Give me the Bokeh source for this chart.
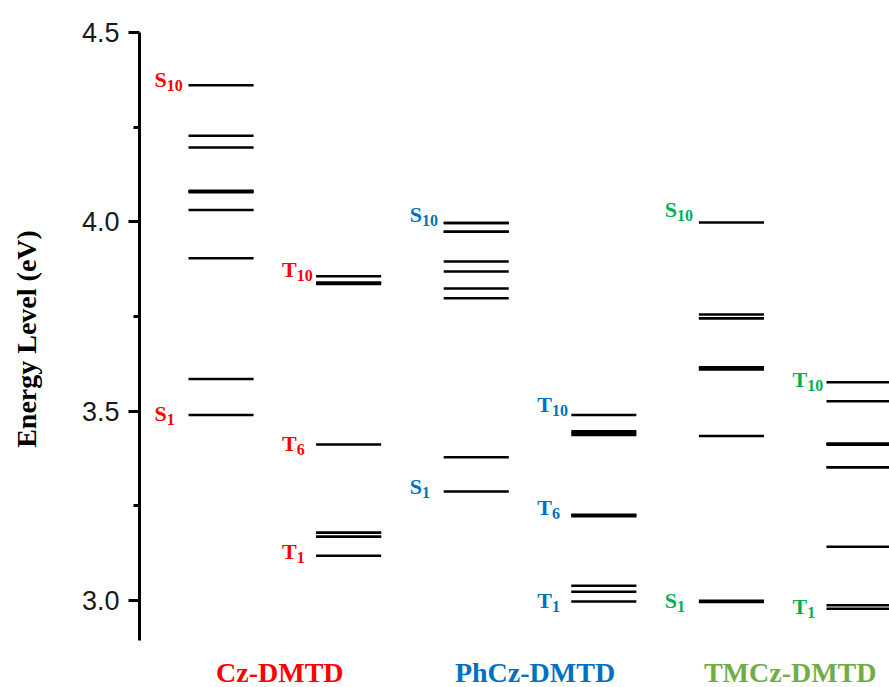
from bokeh.plotting import figure
from bokeh.models import Range1d, FixedTicker, PrintfTickFormatter
from bokeh.core.properties import value
from bokeh.embed import file_html
from bokeh.resources import INLINE

# ---------------- data (energies in eV) ----------------
molecules = ["Cz-DMTD", "PhCz-DMTD", "TMCz-DMTD"]

cz_singlets = [3.490, 3.585, 3.904, 4.031, 4.078, 4.080, 4.082, 4.196, 4.227, 4.361]
cz_triplets = [3.118, 3.168, 3.168, 3.179, 3.179, 3.412, 3.836, 3.839, 3.839, 3.856]
phcz_singlets = [3.288, 3.378, 3.798, 3.824, 3.869, 3.895, 3.974, 3.974, 3.997, 3.997]
phcz_triplets = [2.997, 3.023, 3.039, 3.222, 3.224, 3.226, 3.437, 3.442, 3.447, 3.490]
tmcz_singlets = [2.996, 2.999, 3.434, 3.610, 3.613, 3.616, 3.745, 3.745, 3.755, 3.998]
tmcz_triplets = [2.978, 2.987, 3.142, 3.352, 3.352, 3.411, 3.414, 3.414, 3.526, 3.576]

columns = [cz_singlets, cz_triplets, phcz_singlets, phcz_triplets, tmcz_singlets, tmcz_triplets]

# state labels: column index, letter, subscript, energy where the label sits
label_col = [0, 0, 1, 1, 1, 2, 2, 3, 3, 3, 4, 4, 5, 5]
label_letter = ["S", "S", "T", "T", "T", "S", "S", "T", "T", "T", "S", "S", "T", "T"]
label_sub = ["10", "1", "10", "6", "1", "10", "1", "10", "6", "1", "10", "1", "10", "1"]
label_energy = [4.351, 3.470, 3.850, 3.392, 3.106, 3.995, 3.277, 3.494, 3.222, 2.976,
                4.008, 2.976, 3.559, 2.960]

y_ticks = [3.0, 3.5, 4.0, 4.5]
y_minor_ticks = [3.25, 3.75, 4.25]

# ---------------- styling ----------------
label_colors = ["#FF0000", "#0070C0", "#00B050"]
title_colors = ["#FF0000", "#0070C0", "#70AD47"]
HALF = 0.255          # half width of a level bar (x units)
AXIS_LOW = 2.894
TITLE_Y = 2.776

p = figure(width=889, height=687, output_backend="svg", toolbar_location=None,
           x_range=Range1d(-0.639, 5.239), y_range=Range1d(2.770, 4.5),
           x_axis_location=None, y_axis_location="left",
           min_border_left=139, min_border_right=0, min_border_top=32, min_border_bottom=0)
p.grid.visible = False
p.outline_line_color = None
p.background_fill_color = "white"
p.border_fill_color = "white"

ax = p.yaxis[0]
ax.bounds = (AXIS_LOW, 4.5)
ax.ticker = FixedTicker(ticks=y_ticks, minor_ticks=y_minor_ticks)
ax.formatter = PrintfTickFormatter(format="%.1f")
ax.axis_line_width = 3
ax.axis_line_color = "black"
ax.major_tick_line_width = 3
ax.major_tick_out = 11
ax.major_tick_in = 0
ax.minor_tick_line_width = 3
ax.minor_tick_out = 6
ax.minor_tick_in = 0
ax.major_label_text_font = "Liberation Sans"
ax.major_label_text_font_size = "27px"
ax.major_label_text_color = "#1a1a1a"
ax.major_label_standoff = 9
ax.axis_label = "\u00a0" * 6 + "Energy Level (eV)"
ax.axis_label_text_font = "Liberation Serif"
ax.axis_label_text_font_style = "bold"
ax.axis_label_text_font_size = "28px"
ax.axis_label_text_color = "black"
ax.axis_label_standoff = 37

# level bars
x0, x1, ys = [], [], []
for i, col in enumerate(columns):
    for e in col:
        x0.append(i - HALF)
        x1.append(i + HALF)
        ys.append(e)
p.segment(x0=x0, y0=ys, x1=x1, y1=ys, line_color="black", line_width=2.5)

# state labels (letter + subscript)
adv = {"S": 0.556, "T": 0.667}
LET_SIZE = 22
for c, let, sub, e in zip(label_col, label_letter, label_sub, label_energy):
    color = label_colors[c // 2]
    xl = c - HALF
    p.text(x=[xl], y=[e], text=[let], x_offset=-34, y_offset=-9,
           text_font=value("Liberation Serif"), text_font_style="bold",
           text_font_size=f"{LET_SIZE}px", text_color=color,
           text_align="left", text_baseline="alphabetic")
    p.text(x=[xl], y=[e], text=[sub], x_offset=-34 + adv[let] * LET_SIZE, y_offset=-3,
           text_font=value("Liberation Serif"), text_font_style="bold",
           text_font_size="16px", text_color=color,
           text_align="left", text_baseline="alphabetic")

# molecule titles
title_x = [2 * k + 0.5 for k in range(len(molecules))]
for k, name in enumerate(molecules):
    p.text(x=[title_x[k]], y=[TITLE_Y], text=[name], x_offset=-5, y_offset=-13,
           text_font=value("Liberation Serif"), text_font_style="bold",
           text_font_size="28px", text_color=title_colors[k],
           text_align="center", text_baseline="alphabetic")

open("out.html", "w").write(file_html(p, INLINE))
